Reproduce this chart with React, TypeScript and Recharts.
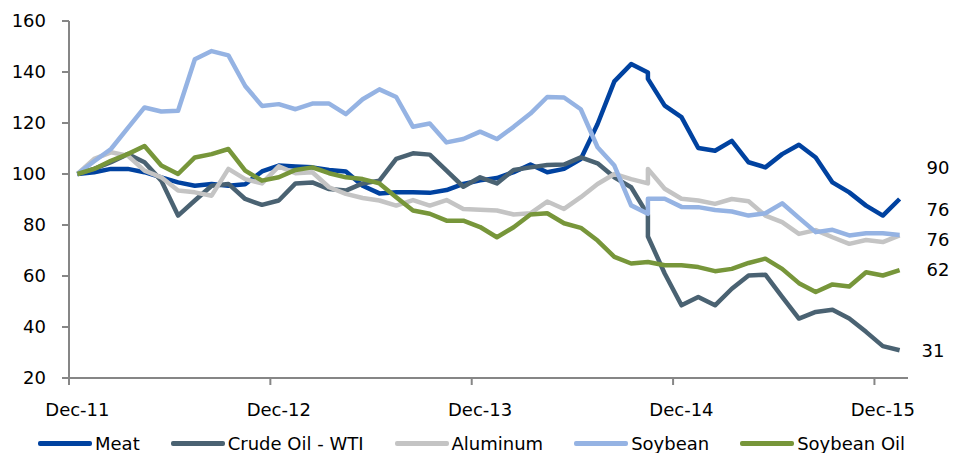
import { LineChart, Line, XAxis, YAxis, Legend } from "recharts";

// month offsets from Dec-11; Oct-14 has two readings
const monthIdx = [
  0, 1, 2, 3, 4, 5, 6, 7, 8, 9, 10, 11, 12, 13, 14, 15, 16, 17, 18, 19, 20, 21, 22, 23, 24,
  25, 26, 27, 28, 29, 30, 31, 32, 33, 34, 34, 35, 36, 37, 38, 39, 40, 41, 42, 43, 44, 45, 46,
  47, 48, 49,
];

const meat = [
  100, 100.7, 102, 102, 100.7, 98.7, 96.7, 95.4, 96.1, 95.4, 96, 101, 103.3, 102.9, 102.6, 101.6,
  101, 95.4, 92.4, 92.8, 92.8, 92.6, 93.7, 96.1, 97.5, 98.4, 100.7, 103.7, 100.7, 102, 105.9,
  119.6, 136.3, 143.1, 139.8, 137.3, 126.8, 122.3, 110.2, 109.1, 113, 104.6, 102.6, 107.8, 111.5,
  106.5, 96.7, 92.8, 87.6, 83.7, 90.2,
];

const crudeOil = [
  100, 102, 104.6, 107.8, 104.6, 97.4, 83.7, 89.6, 95.4, 96.1, 90.2, 87.9, 89.6, 96.3, 96.7, 94.1,
  93.5, 96.3, 97.4, 105.9, 108.1, 107.6, 101.3, 95, 98.7, 96.3, 101.6, 102.6, 103.5, 103.7, 106.5,
  104.2, 98.7, 94.8, 84, 75.5, 61, 48.5, 51.8, 48.5, 55, 60.2, 60.5, 51.8, 43.3, 45.9, 46.8, 43.3,
  38.1, 32.5, 30.9,
];

const aluminum = [
  100, 105.9, 108.5, 107.2, 101.3, 98.7, 93.5, 92.8, 91.5, 102, 98, 96.3, 103, 100.3, 100.7, 94.8,
  92.2, 90.6, 89.6, 87.6, 89.8, 87.6, 89.8, 86.3, 86, 85.7, 84.1, 84.6, 89.2, 86.3, 90.9, 96.1,
  100, 98, 96.3, 102, 94.2, 90.3, 89.6, 88.3, 90.2, 89.3, 83.7, 81.1, 76.5, 78, 75.2, 72.6, 74.1,
  73.3, 75.9,
];

const soybean = [
  100, 105, 109.8, 118, 126.1, 124.5, 124.8, 145, 148.2, 146.5, 134.5, 126.7, 127.4, 125.4, 127.6,
  127.6, 123.5, 129.3, 133.2, 130.2, 118.5, 119.8, 112.4, 113.7, 116.6, 113.7, 118.5, 123.7, 130.2,
  130, 125.4, 110.5, 103.3, 87.7, 84.4, 90.3, 90.3, 87.1, 87, 85.9, 85.3, 83.7, 84.6, 88.5, 82.8,
  77.2, 78.1, 75.9, 76.8, 76.8, 76.1,
];

const soybeanOil = [
  100, 102, 105.2, 107.8, 111, 103.3, 100, 106.5, 107.8, 109.8, 101.3, 97.4, 98.7, 101.6, 102.6,
  100.3, 98.7, 98, 96.3, 90.9, 85.7, 84.4, 81.7, 81.7, 79.2, 75.2, 79.1, 84.1, 84.6, 80.7, 78.9,
  73.9, 67.5, 64.9, 65.5, 65.5, 64.2, 64.2, 63.5, 61.9, 62.8, 65.1, 66.8, 62.8, 57.2, 53.7, 56.7,
  55.9, 61.5, 60.2, 62.3,
];

const xTicks = [0, 12, 24, 36, 48];
const xTickLabels = ["Dec-11", "Dec-12", "Dec-13", "Dec-14", "Dec-15"];
const yTicks = [20, 40, 60, 80, 100, 120, 140, 160];

const data = monthIdx.map((m, k) => ({
  m,
  meat: meat[k],
  crude: crudeOil[k],
  aluminum: aluminum[k],
  soybean: soybean[k],
  soybeanOil: soybeanOil[k],
}));

const series = [
  { key: "meat", name: "Meat", color: "#0042a0", dx: 27, dy: -31 },
  { key: "crude", name: "Crude Oil - WTI", color: "#4a6272", dx: 22, dy: 1 },
  { key: "aluminum", name: "Aluminum", color: "#c4c4c4", dx: 27, dy: 5 },
  { key: "soybean", name: "Soybean", color: "#95b3e3", dx: 27, dy: -25 },
  { key: "soybeanOil", name: "Soybean Oil", color: "#77963a", dx: 27, dy: 0 },
];

const W = 954;
const H = 453;
const M = { top: 21, right: 46, bottom: 0, left: 0 };
const Y_W = 69;
const FONT = "'DejaVu Sans', sans-serif";
const AXIS = "#868686";
const halfStep = (W - M.right - Y_W) / 50 / 2;
const last = data.length - 1;

function XTick({ x, y, payload }: any) {
  const i = xTicks.indexOf(payload.value);
  return (
    <g>
      <line x1={x - halfStep} x2={x - halfStep} y1={y} y2={y + 7} stroke={AXIS} strokeWidth={2} />
      <text x={x} y={y + 38} textAnchor="middle" fontSize={18} fontFamily={FONT} fill="#000">
        {xTickLabels[i]}
      </text>
    </g>
  );
}

function LegendBox() {
  return (
    <div
      style={{
        display: "flex",
        alignItems: "center",
        boxSizing: "border-box",
        height: 30,
        paddingTop: 10,
        paddingLeft: 38,
        fontFamily: FONT,
        fontSize: 18,
        color: "#000",
      }}
    >
      {series.map((s) => (
        <div key={s.key} style={{ display: "flex", alignItems: "center", marginRight: 31 }}>
          <span style={{ display: "inline-block", width: 54, height: 5, borderRadius: 2, background: s.color, marginRight: 3 }} />
          {s.name}
        </div>
      ))}
    </div>
  );
}

export default function App() {
  return (
    <div style={{ position: "absolute", left: 0, top: 0, width: W, height: H, background: "#fff" }}>
      <LineChart width={W} height={H} data={data} margin={M}>
        <XAxis
          dataKey="m"
          type="number"
          domain={[-0.5, 49.5]}
          ticks={xTicks}
          interval={0}
          height={45}
          tickSize={0}
          tickMargin={0}
          tickLine={false}
          axisLine={{ stroke: AXIS, strokeWidth: 2 }}
          tick={<XTick />}
        />
        <YAxis
          domain={[20, 160]}
          ticks={yTicks}
          interval={0}
          width={Y_W}
          tickSize={7}
          tickMargin={16}
          axisLine={{ stroke: AXIS, strokeWidth: 2 }}
          tickLine={{ stroke: AXIS, strokeWidth: 2 }}
          tick={{ fill: "#000", fontSize: 18, fontFamily: FONT }}
        />
        <Legend
          verticalAlign="bottom"
          height={30}
          content={<LegendBox />}
          wrapperStyle={{ left: 0, width: W, bottom: 0 }}
        />
        {series.map((s) => (
          <Line
            key={s.key}
            dataKey={s.key}
            name={s.name}
            stroke={s.color}
            strokeWidth={4.5}
            strokeLinejoin="round"
            dot={false}
            isAnimationActive={false}
            label={(p: any) =>
              p.index === last ? (
                <text
                  key={s.key + "-end"}
                  x={p.x + s.dx}
                  y={p.y + s.dy}
                  dy={6}
                  fontSize={18}
                  fontFamily={FONT}
                  fill="#000"
                >
                  {Math.round(p.value)}
                </text>
              ) : (
                <g key={s.key + "-" + p.index} />
              )
            }
          />
        ))}
      </LineChart>
    </div>
  );
}
